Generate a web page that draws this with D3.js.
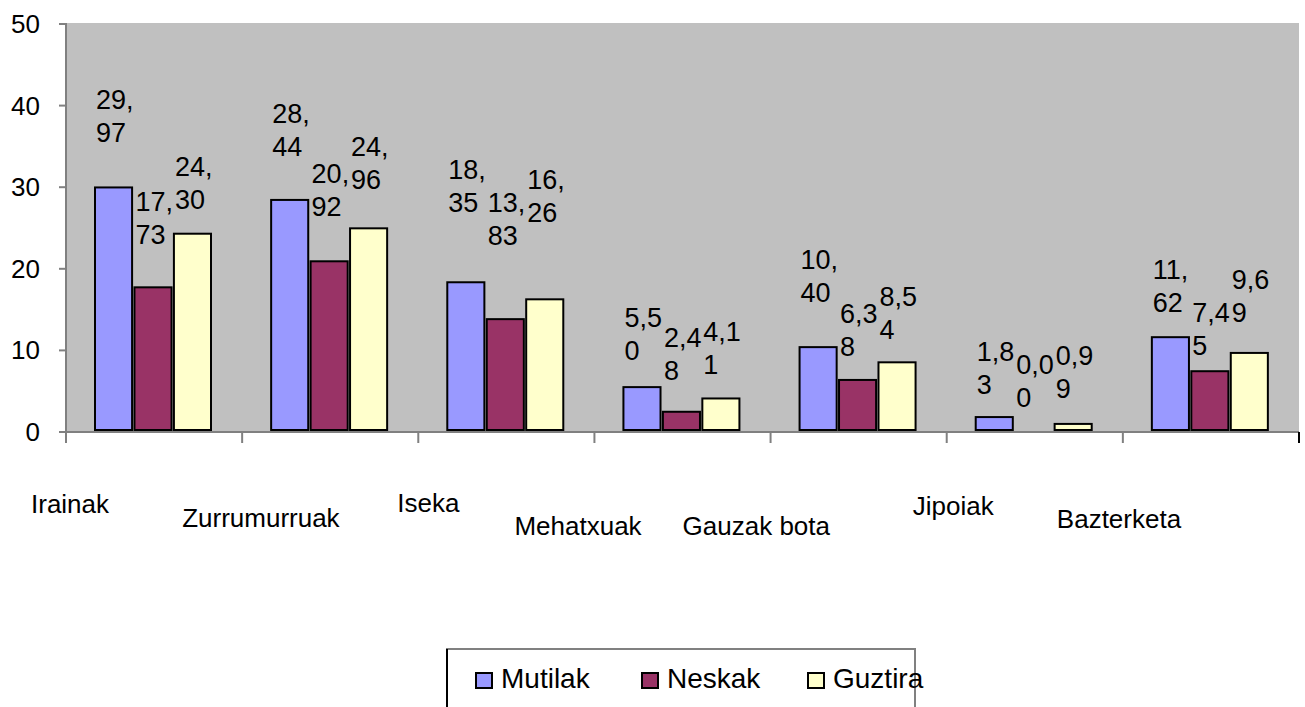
<!DOCTYPE html>
<html>
<head>
<meta charset="utf-8">
<script src="https://cdn.jsdelivr.net/npm/d3@7"></script>
<style>
  body { margin: 0; background: #fff; }
  svg text { font-family: Arial, "Liberation Sans", sans-serif; fill: #000; }
</style>
</head>
<body>
<svg id="chart" width="1305" height="707"></svg>
<script>
// values
let categories = ['Irainak', 'Zurrumurruak', 'Iseka', 'Mehatxuak', 'Gauzak bota', 'Jipoiak', 'Bazterketa'];
let seriesNames = ['Mutilak', 'Neskak', 'Guztira'];
let mutilak = [29.97, 28.44, 18.35, 5.50, 10.40, 1.83, 11.62];
let neskak = [17.73, 20.92, 13.83, 2.48, 6.38, 0.00, 7.45];
let guztira = [24.30, 24.96, 16.26, 4.11, 8.54, 0.99, 9.69];
let yTicks = [0, 10, 20, 30, 40, 50];

let colors = ['#9999FF', '#993366', '#FFFFCC'];

// layout of the hand-placed labels (how Excel left them)
// distance from bar top to the baseline of the last label line
let labelLift = [
  [45, 44, 70, 27, 45, 23, 25],
  [43, 45, 74, 32, 24, 25, 16],
  [25, 39, 77, 24, 23, 26, 31]
];
// category label: x shift from the band start, baseline below the axis
let catDx = [-35, -60, -21, -80, -88, -34, -66];
let catDy = [81, 95, 80, 103, 103, 83, 96];

let svg = d3.select('#chart');
let plot = {left: 66, right: 1299, top: 23, bottom: 432};

let x = d3.scaleBand()
  .domain(categories)
  .range([plot.left, plot.right])
  .padding(0);
let xs = d3.scaleBand()
  .domain(seriesNames)
  .range([29, 29 + 116])
  .paddingInner(0.06);
let y = d3.scaleLinear()
  .domain([0, 50])
  .range([plot.bottom, plot.top + 1]);

// plot background
svg.append('rect')
  .attr('x', plot.left)
  .attr('y', plot.top)
  .attr('width', plot.right - plot.left)
  .attr('height', plot.bottom - plot.top)
  .attr('fill', '#C0C0C0');

let seriesData = [mutilak, neskak, guztira].map((vals, s) => ({
  name: seriesNames[s],
  color: colors[s],
  points: vals.map((v, i) => ({cat: categories[i], value: v, lift: labelLift[s][i]}))
}));

let groups = svg.selectAll('g.series')
  .data(seriesData)
  .enter()
  .append('g')
  .classed('series', true);

groups.selectAll('rect')
  .data(d => d.points.map(p => Object.assign({series: d.name, color: d.color}, p)))
  .enter()
  .filter(d => d.value > 0)
  .append('rect')
  .attr('x', d => x(d.cat) + xs(d.series))
  .attr('y', d => y(d.value))
  .attr('width', xs.bandwidth())
  .attr('height', d => Math.max(0, y(0) - 2 - y(d.value)))
  .attr('fill', d => d.color)
  .attr('stroke', '#000')
  .attr('stroke-width', 2);

// value labels, wrapped the way the source wrapped them
let fmt = v => v.toFixed(2).replace('.', ',');
groups.each(function(d) {
  let g = d3.select(this);
  d.points.forEach(p => {
    let s = fmt(p.value);
    let lines = [s.slice(0, 3), s.slice(3)];
    let base = y(p.value) - p.lift;
    let t = g.append('text')
      .attr('x', x(p.cat) + xs(d.name) + 1)
      .attr('font-size', 27);
    lines.forEach((ln, k) => {
      t.append('tspan')
        .attr('x', x(p.cat) + xs(d.name) + 1)
        .attr('y', base - (lines.length - 1 - k) * 33)
        .text(ln);
    });
  });
});

// y axis
let yAxis = svg.append('g');
yAxis.append('line')
  .attr('x1', plot.left).attr('x2', plot.left)
  .attr('y1', plot.top).attr('y2', plot.bottom)
  .attr('stroke', '#808080').attr('stroke-width', 2);
yAxis.selectAll('line.tick')
  .data(yTicks)
  .enter()
  .append('line')
  .classed('tick', true)
  .attr('x1', plot.left - 7).attr('x2', plot.left)
  .attr('y1', d => y(d)).attr('y2', d => y(d))
  .attr('stroke', '#808080').attr('stroke-width', 2);
yAxis.selectAll('text')
  .data(yTicks)
  .enter()
  .append('text')
  .attr('x', 40)
  .attr('y', d => y(d) + 9)
  .attr('text-anchor', 'end')
  .attr('font-size', 26)
  .text(d => d);

// x axis
let xAxis = svg.append('g');
xAxis.append('line')
  .attr('x1', plot.left).attr('x2', plot.right)
  .attr('y1', plot.bottom).attr('y2', plot.bottom)
  .attr('stroke', '#808080').attr('stroke-width', 2);
let tickXs = categories.map(c => x(c)).concat([plot.right]);
xAxis.selectAll('line.tick')
  .data(tickXs)
  .enter()
  .append('line')
  .classed('tick', true)
  .attr('x1', d => d).attr('x2', d => d)
  .attr('y1', plot.bottom).attr('y2', plot.bottom + 11)
  .attr('stroke', (d, i) => i == tickXs.length - 1 ? '#000' : '#808080')
  .attr('stroke-width', 2);
xAxis.selectAll('text')
  .data(categories)
  .enter()
  .append('text')
  .attr('x', (d, i) => x(d) + catDx[i])
  .attr('y', (d, i) => plot.bottom + catDy[i])
  .attr('font-size', 26)
  .text(d => d);

// legend
let legend = svg.append('g');
legend.append('path')
  .attr('d', 'M447,707 V649 H915 V707')
  .attr('fill', 'none')
  .attr('stroke', '#808080')
  .attr('stroke-width', 2);
legend.append('line')
  .attr('x1', 447).attr('x2', 447)
  .attr('y1', 649).attr('y2', 707)
  .attr('stroke', '#000').attr('stroke-width', 2);
let legendX = [476, 642, 808];
let items = legend.selectAll('g.item')
  .data(seriesNames)
  .enter()
  .append('g')
  .classed('item', true)
  .attr('transform', (d, i) => `translate(${legendX[i]},673)`);
items.append('rect')
  .attr('width', 16).attr('height', 15)
  .attr('fill', (d, i) => colors[i])
  .attr('stroke', '#000').attr('stroke-width', 2);
items.append('text')
  .attr('x', 25)
  .attr('y', 15)
  .attr('font-size', 28)
  .text(d => d);
</script>
</body>
</html>
